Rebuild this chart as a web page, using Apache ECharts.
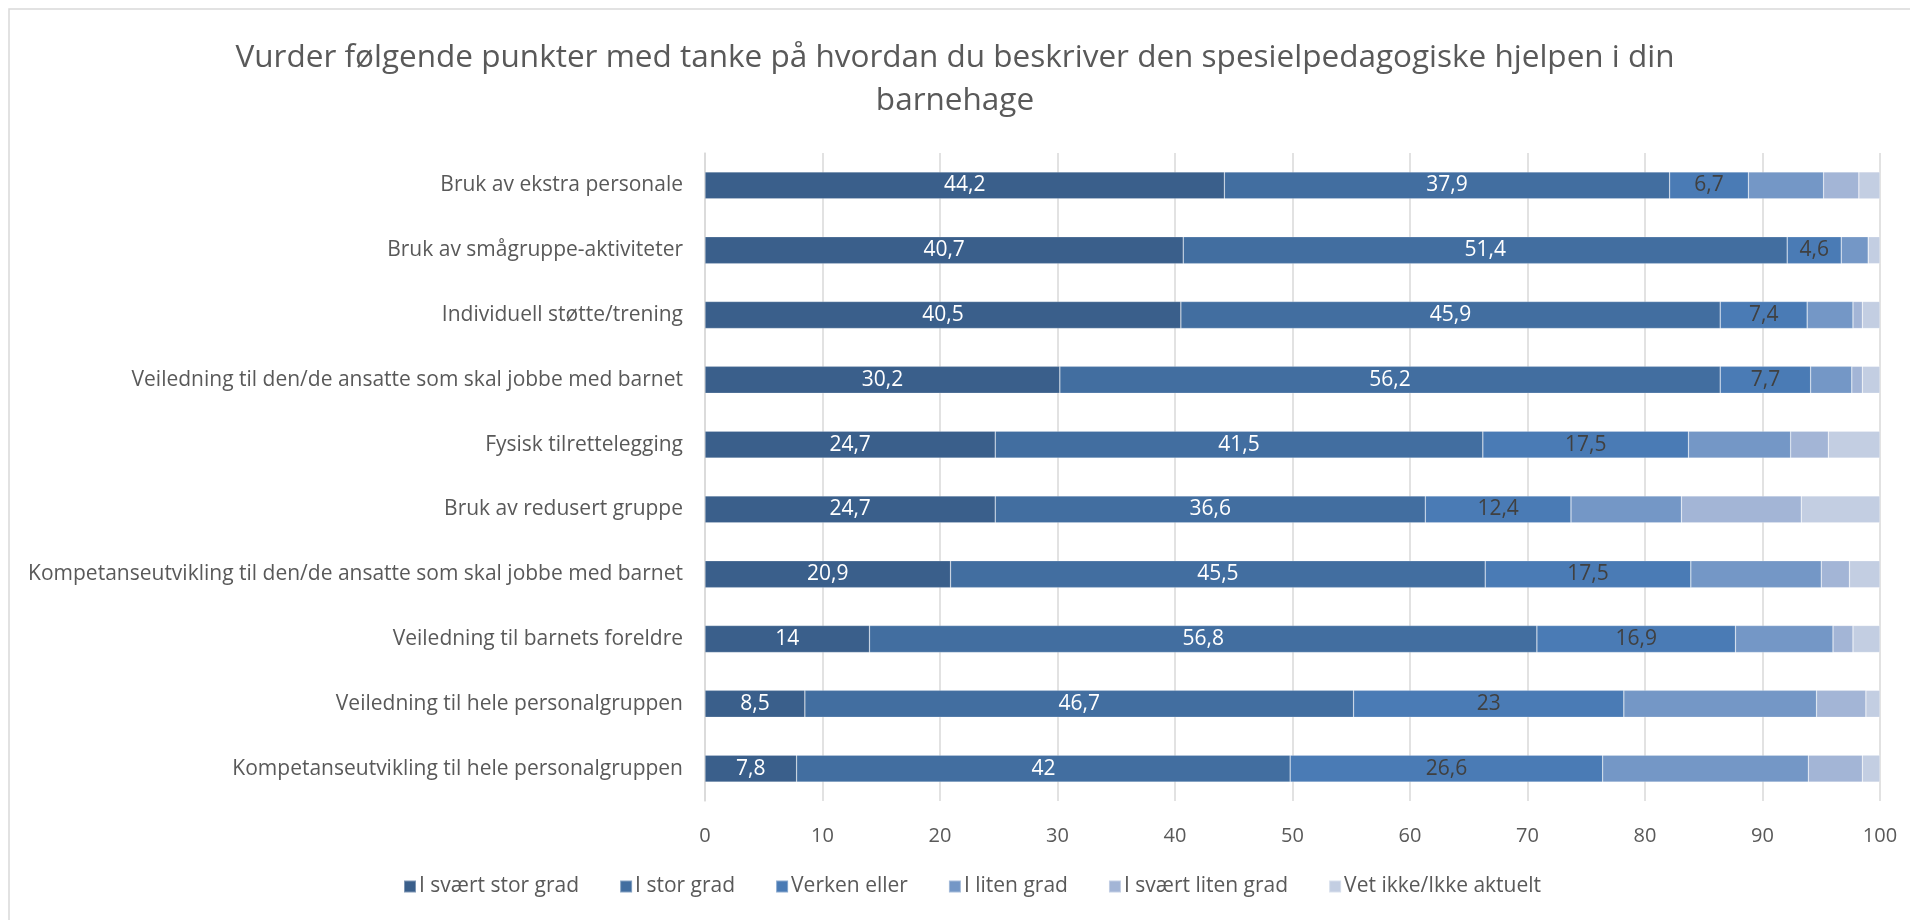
<!DOCTYPE html>
<html>
<head>
<meta charset="utf-8">
<script src="https://cdn.jsdelivr.net/npm/echarts@6/dist/echarts.min.js"></script>
<style>
  html, body { margin: 0; padding: 0; background: #fff; }
  #chart { width: 1910px; height: 920px; }
</style>
</head>
<body>
<div id="chart"></div>
<script>
// categories, bottom to top (category axis draws first item at the bottom)
const categories = [
  'Kompetanseutvikling til hele personalgruppen',
  'Veiledning til hele personalgruppen',
  'Veiledning til barnets foreldre',
  'Kompetanseutvikling til den/de ansatte som skal jobbe med barnet',
  'Bruk av redusert gruppe',
  'Fysisk tilrettelegging',
  'Veiledning til den/de ansatte som skal jobbe med barnet',
  'Individuell støtte/trening',
  'Bruk av smågruppe-aktiviteter',
  'Bruk av ekstra personale',
]

const seriesNames = ['I svært stor grad', 'I stor grad', 'Verken eller', 'I liten grad', 'I svært liten grad', 'Vet ikke/Ikke aktuelt']

const sVeryHigh = [7.8, 8.5, 14, 20.9, 24.7, 24.7, 30.2, 40.5, 40.7, 44.2]
const sHigh = [42, 46.7, 56.8, 45.5, 36.6, 41.5, 56.2, 45.9, 51.4, 37.9]
const sNeither = [26.6, 23, 16.9, 17.5, 12.4, 17.5, 7.7, 7.4, 4.6, 6.7]
const sLow = [17.5, 16.4, 8.3, 11.1, 9.4, 8.7, 3.5, 3.9, 2.3, 6.4]
const sVeryLow = [4.6, 4.2, 1.7, 2.4, 10.2, 3.2, 0.9, 0.8, 0, 3.0]
const sDontKnow = [1.5, 1.2, 2.3, 2.6, 6.7, 4.4, 1.5, 1.5, 1.0, 1.8]

const xTicks = [0, 10, 20, 30, 40, 50, 60, 70, 80, 90, 100]

const FONT = 'Open Sans'
const colors = ['#3a5f8b', '#426ea0', '#4a7bb5', '#7497c6', '#a3b5d6', '#c3cee2']
const labelColors = ['#ffffff', '#ffffff', '#404040', null, null, null]

const values = [sVeryHigh, sHigh, sNeither, sLow, sVeryLow, sDontKnow]

const series = values.map((data, i) => ({
  name: seriesNames[i],
  type: 'bar',
  stack: 'total',
  data,
  barWidth: 27,
  itemStyle: { color: colors[i], borderColor: 'rgba(255,255,255,0.35)', borderWidth: 0.6 },
  label: labelColors[i] ? {
    show: true,
    position: 'inside',
    color: labelColors[i],
    fontFamily: FONT,
    fontSize: 21,
    formatter: p => String(p.value).replace('.', ','),
  } : { show: false },
  emphasis: { disabled: true },
}))

const chart = echarts.init(document.getElementById('chart'), null, { renderer: 'canvas' })

chart.setOption({
  animation: false,
  textStyle: { fontFamily: FONT },
  title: {
    text: 'Vurder følgende punkter med tanke på hvordan du beskriver den spesielpedagogiske hjelpen i din\nbarnehage',
    left: 'center',
    top: 32,
    textStyle: { color: '#595959', fontSize: 31.5, fontWeight: 'normal', fontFamily: FONT, lineHeight: 43 },
  },
  legend: {
    data: seriesNames,
    bottom: 18,
    left: 398,
    itemWidth: 12,
    itemHeight: 12,
    itemGap: 40,
    icon: 'rect',
    textStyle: { color: '#595959', fontSize: 21, fontFamily: FONT, padding: [0, 0, 0, -2] },
  },
  graphic: [{
    type: 'rect',
    shape: { x: 9, y: 9, width: 1920, height: 940 },
    style: { fill: 'none', stroke: '#d9d9d9', lineWidth: 1.5 },
    silent: true,
  }],
  grid: { left: 705, right: 30, top: 153, bottom: 119 },
  xAxis: {
    type: 'value',
    min: 0,
    max: 100,
    interval: 10,
    axisLabel: { color: '#595959', fontSize: 20, fontFamily: FONT, margin: 25, formatter: v => xTicks.includes(v) ? String(v) : '' },
    axisLine: { show: false },
    axisTick: { show: false },
    splitLine: { lineStyle: { color: '#d9d9d9', width: 1.5 } },
  },
  yAxis: {
    type: 'category',
    data: categories,
    axisLabel: { color: '#595959', fontSize: 21, fontFamily: FONT, margin: 22 },
    axisLine: { lineStyle: { color: '#d9d9d9', width: 1.5 } },
    axisTick: { show: false },
  },
  series,
})
</script>
</body>
</html>
